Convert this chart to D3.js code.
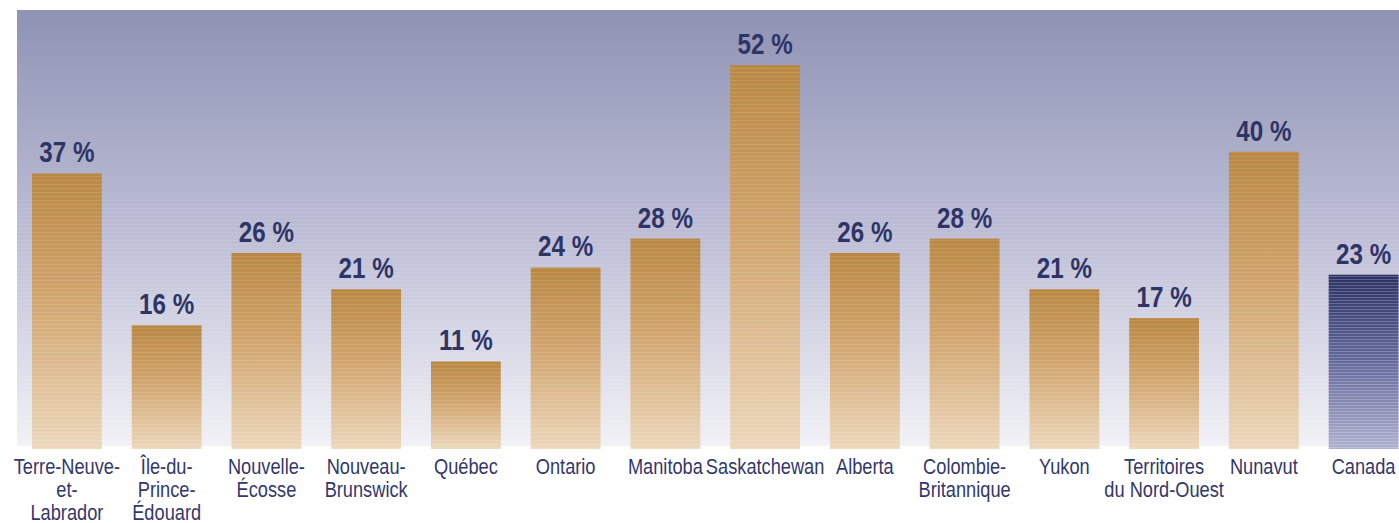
<!DOCTYPE html>
<html>
<head>
  <meta charset="utf-8">
  <title>Proportion par province</title>
  <script src="https://d3js.org/d3.v7.min.js"></script>
  <style>
    body { margin: 0; background: #fff; }
    .valeur { font: bold 29.5px "Liberation Sans", Arial, sans-serif; fill: #2e3466; text-anchor: middle; }
    .categorie { font: 22.5px "Liberation Sans", Arial, sans-serif; fill: #33386a; text-anchor: middle; }
  </style>
</head>
<body>
<div id="grafico"></div>
<script>
"use strict"

// donnees
var provinces = ["Terre-Neuve-et-Labrador", "Île-du-Prince-Édouard", "Nouvelle-Écosse", "Nouveau-Brunswick",
  "Québec", "Ontario", "Manitoba", "Saskatchewan", "Alberta", "Colombie-Britannique", "Yukon",
  "Territoires du Nord-Ouest", "Nunavut", "Canada"];
var pourcentages = [37, 16, 26, 21, 11, 24, 28, 52, 26, 28, 21, 17, 40, 23];
// libelles sur plusieurs lignes
var libelles = [["Terre-Neuve-", "et-", "Labrador"], ["Île-du-", "Prince-", "Édouard"], ["Nouvelle-", "Écosse"],
  ["Nouveau-", "Brunswick"], ["Québec"], ["Ontario"], ["Manitoba"], ["Saskatchewan"], ["Alberta"],
  ["Colombie-", "Britannique"], ["Yukon"], ["Territoires", "du Nord-Ouest"], ["Nunavut"], ["Canada"]];

var larguraSVG = 1399, alturaSVG = 523;
var etroit = 0.81; // police etroite simulee

var svg = d3.select('#grafico').append('svg')
  .attr('width', larguraSVG)
  .attr('height', alturaSVG);

var defs = svg.append('defs');

// fond degrade
var fond = defs.append('linearGradient').attr('id', 'fond').attr('x1', 0).attr('y1', 0).attr('x2', 0).attr('y2', 1);
fond.append('stop').attr('offset', '0%').attr('stop-color', '#8f93b4');
fond.append('stop').attr('offset', '50%').attr('stop-color', '#bcbdd5');
fond.append('stop').attr('offset', '100%').attr('stop-color', '#f1f1f6');

var barreOr = defs.append('linearGradient').attr('id', 'barreOr').attr('x1', 0).attr('y1', 0).attr('x2', 0).attr('y2', 1);
barreOr.append('stop').attr('offset', '0%').attr('stop-color', '#b98843');
barreOr.append('stop').attr('offset', '45%').attr('stop-color', '#d1a56e');
barreOr.append('stop').attr('offset', '100%').attr('stop-color', '#ecd8bc');

var barreBleu = defs.append('linearGradient').attr('id', 'barreBleu').attr('x1', 0).attr('y1', 0).attr('x2', 0).attr('y2', 1);
barreBleu.append('stop').attr('offset', '0%').attr('stop-color', '#2c3163');
barreBleu.append('stop').attr('offset', '50%').attr('stop-color', '#656a9c');
barreBleu.append('stop').attr('offset', '100%').attr('stop-color', '#aeb0cd');

// rayures horizontales
var rayures = defs.append('pattern').attr('id', 'rayures').attr('patternUnits', 'userSpaceOnUse')
  .attr('width', 4).attr('height', 4);
rayures.append('rect').attr('width', 4).attr('height', 1).attr('fill', '#fff').attr('opacity', 0.12);

var rayuresBleu = defs.append('pattern').attr('id', 'rayuresBleu').attr('patternUnits', 'userSpaceOnUse')
  .attr('width', 4).attr('height', 3);
rayuresBleu.append('rect').attr('width', 4).attr('height', 1).attr('fill', '#fff').attr('opacity', 0.22);

var fondRect = { x: 17, y: 10, w: 1382, h: 436 };
svg.append('rect').attr('x', fondRect.x).attr('y', fondRect.y).attr('width', fondRect.w).attr('height', fondRect.h)
  .attr('fill', 'url(#fond)');
svg.append('rect').attr('x', fondRect.x).attr('y', 200).attr('width', fondRect.w).attr('height', 246)
  .attr('fill', 'url(#rayures)').attr('opacity', 0.6);

var x = d3.scaleBand()
  .domain(provinces)
  .range([32, 1398.5])
  .paddingInner(0.3)
  .paddingOuter(0);

// les barres descendent un peu sous le zero
var y = d3.scaleLinear()
  .domain([-1.1, 52])
  .range([449, 65]);
var base = y.domain()[0];

var dados = provinces.map((p, i) => ({ province: p, valeur: pourcentages[i], lignes: libelles[i] }));

var barres = svg.append('g');
barres.selectAll('rect.barre')
  .data(dados)
  .enter()
  .append('rect')
  .attr('class', 'barre')
  .attr('x', d => x(d.province))
  .attr('y', d => y(d.valeur))
  .attr('width', x.bandwidth())
  .attr('height', d => y(base) - y(d.valeur))
  .attr('fill', d => d.province === "Canada" ? 'url(#barreBleu)' : 'url(#barreOr)');

barres.selectAll('rect.rayure')
  .data(dados)
  .enter()
  .append('rect')
  .attr('class', 'rayure')
  .attr('x', d => x(d.province))
  .attr('y', d => y(d.valeur))
  .attr('width', x.bandwidth())
  .attr('height', d => y(base) - y(d.valeur))
  .attr('fill', d => d.province === "Canada" ? 'url(#rayuresBleu)' : 'url(#rayures)');

svg.append('g').selectAll('text')
  .data(dados)
  .enter()
  .append('text')
  .attr('class', 'valeur')
  .attr('transform', d => 'translate(' + (x(d.province) + x.bandwidth() / 2) + ',' + (y(d.valeur) - 11) + ') scale(0.82,1)')
  .text(d => d.valeur + " %");

var cats = svg.append('g').selectAll('text')
  .data(dados)
  .enter()
  .append('text')
  .attr('class', 'categorie')
  .attr('transform', d => 'translate(' + (x(d.province) + x.bandwidth() / 2) + ',474) scale(' + etroit + ',1)');

cats.selectAll('tspan')
  .data(d => d.lignes)
  .enter()
  .append('tspan')
  .attr('x', 0)
  .attr('dy', (t, i) => i === 0 ? 0 : 22.8)
  .text(t => t);
</script>
</body>
</html>
